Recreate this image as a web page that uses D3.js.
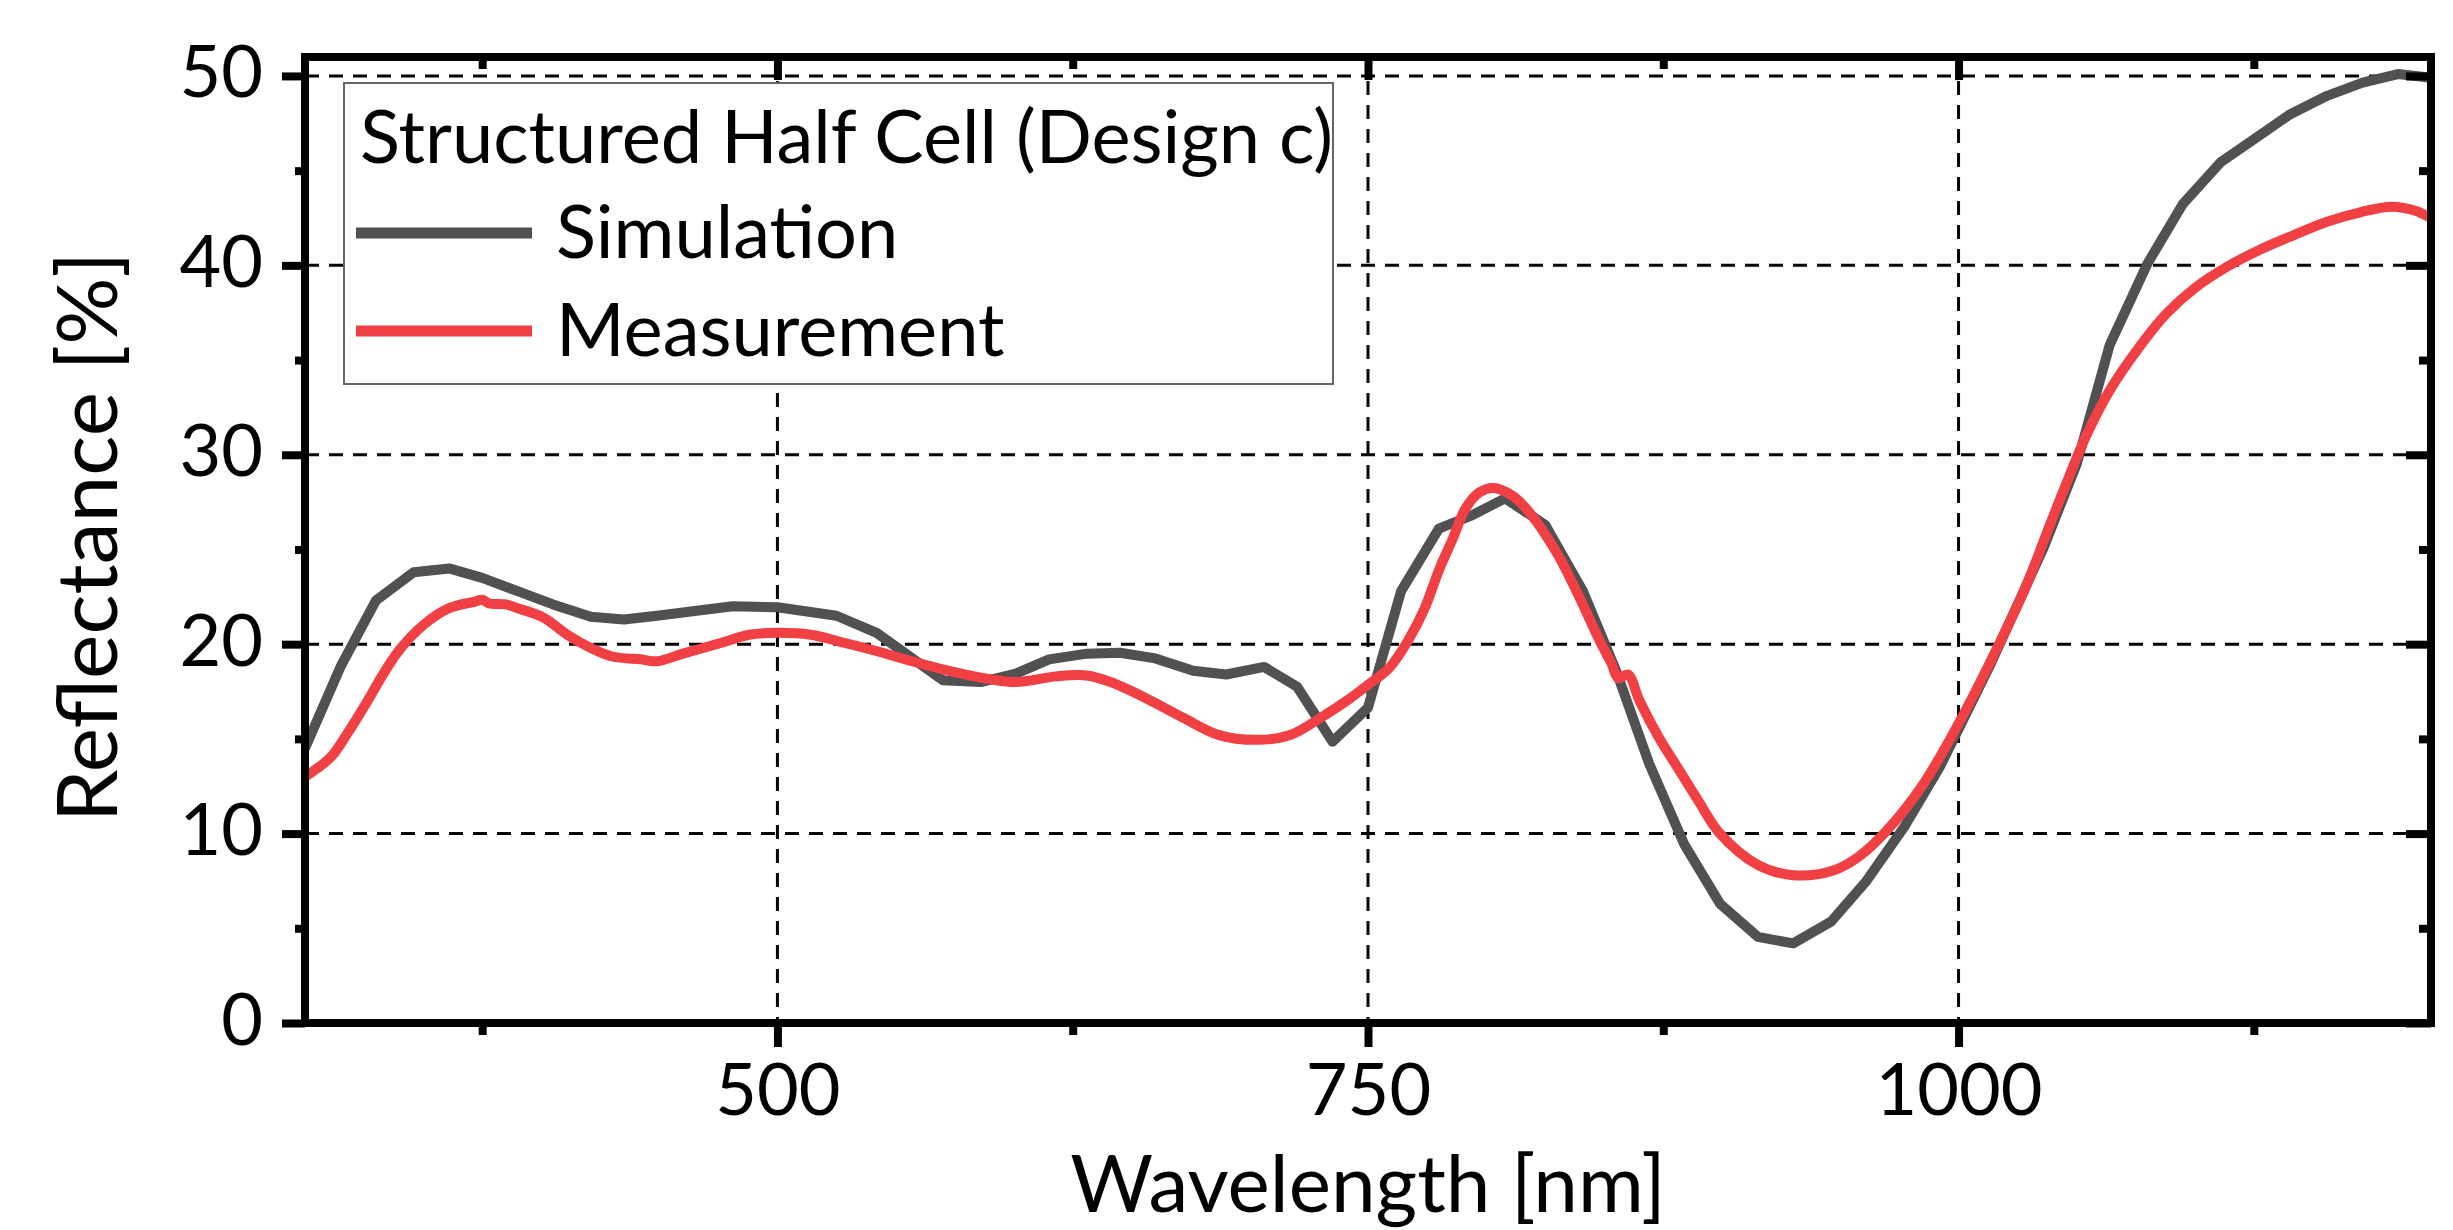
<!DOCTYPE html>
<html>
<head>
<meta charset="utf-8">
<script src="https://cdn.jsdelivr.net/npm/d3@7"></script>
<style>
  body { margin: 0; background: #fff; }
  text { font-family: Lato, "Open Sans", sans-serif; fill: #000; }
</style>
</head>
<body>
<div id="graf"></div>
<script>
// Data
const simWavelength = [300, 315, 330, 346, 361, 375, 390, 405, 421, 435, 449, 481, 500, 525, 542, 570, 586, 601, 615, 631, 645, 660, 676, 690, 706, 720, 735, 750, 764, 780, 794, 808, 825, 841, 855, 869, 884, 899, 915, 930, 946, 961, 977, 992, 1013, 1036, 1050, 1064, 1080, 1095, 1111, 1125, 1140, 1156, 1171, 1186, 1200]
const simReflectance = [14.5, 18.8, 22.3, 23.8, 24.0, 23.5, 22.8, 22.1, 21.45, 21.3, 21.5, 22.0, 21.95, 21.5, 20.6, 18.1, 18.0, 18.45, 19.2, 19.5, 19.55, 19.25, 18.6, 18.4, 18.8, 17.75, 14.85, 16.65, 22.8, 26.1, 26.8, 27.7, 26.3, 22.8, 18.6, 13.7, 9.4, 6.3, 4.55, 4.2, 5.35, 7.5, 10.35, 13.5, 18.8, 25.1, 29.5, 35.8, 40.1, 43.25, 45.45, 46.65, 47.95, 48.95, 49.65, 50.1, 49.9]

const measWavelength = [300, 311, 318, 326, 333, 340, 350, 361, 372, 375, 378, 385, 390, 401, 411, 421, 430, 442, 449, 460, 477, 488, 500, 514, 529, 543, 557, 574, 590, 601, 618, 631, 641, 656, 672, 687, 703, 717, 731, 742, 750, 759, 767, 774, 780, 786, 791, 797, 803, 811, 818, 830, 839, 848, 853, 856, 860, 865, 873, 882, 890, 899, 915, 930, 947, 958, 971, 985, 1000, 1013, 1028, 1039, 1046, 1054, 1064, 1076, 1088, 1100, 1114, 1128, 1142, 1156, 1170, 1183, 1193, 1200]
const measReflectance = [13.0, 14.05, 15.3, 16.9, 18.4, 19.7, 21.0, 21.9, 22.25, 22.35, 22.15, 22.1, 21.9, 21.4, 20.5, 19.8, 19.35, 19.2, 19.1, 19.5, 20.1, 20.5, 20.6, 20.5, 20.05, 19.6, 19.1, 18.55, 18.15, 18.0, 18.3, 18.35, 18.0, 17.15, 16.1, 15.2, 14.95, 15.2, 16.2, 17.1, 17.85, 18.75, 20.2, 21.9, 23.9, 25.6, 27.1, 28.0, 28.25, 27.85, 27.0, 24.8, 22.6, 20.2, 19.0, 18.2, 18.4, 17.0, 15.1, 13.3, 11.7, 10.0, 8.35, 7.8, 8.05, 8.8, 10.35, 12.6, 15.8, 18.95, 22.9, 26.4, 28.6, 31.0, 33.4, 35.6, 37.45, 38.8, 39.95, 40.85, 41.6, 42.3, 42.8, 43.1, 42.9, 42.5]

const xMajor = [500, 750, 1000]
const xMinor = [375, 625, 875, 1125]
const yMajor = [0, 10, 20, 30, 40, 50]
const yMinor = [5, 15, 25, 35, 45]

const series = [
  { nombre: "Simulation", wl: simWavelength, r: simReflectance, color: "#515151", curva: d3.curveLinear },
  { nombre: "Measurement", wl: measWavelength, r: measReflectance, color: "#f04044", curva: d3.curveCatmullRom.alpha(0.5) },
]

const graf = d3.select("#graf")

const anchoTotal = 2453
const altoTotal = 1230
const margins = { left: 305, top: 57, right: 22, bottom: 207 }
const ancho = anchoTotal - margins.left - margins.right
const alto = altoTotal - margins.top - margins.bottom

const svg = graf
  .append("svg")
  .attr("width", anchoTotal)
  .attr("height", altoTotal)

const g = svg
  .append("g")
  .attr("transform", `translate(${margins.left}, ${margins.top})`)

// Escaladores
const x = d3.scaleLinear().domain([300, 1200]).range([0, ancho])
const y = d3.scaleLinear().domain([0, 51]).range([alto, 0])

// Grid
const grid = g.append("g").attr("stroke", "#000").attr("stroke-width", 3).attr("stroke-dasharray", "14,10")
grid
  .selectAll("line.v")
  .data(xMajor)
  .join("line")
  .attr("class", "v")
  .attr("x1", (d) => x(d))
  .attr("x2", (d) => x(d))
  .attr("y1", 0)
  .attr("y2", alto)
grid
  .selectAll("line.h")
  .data(yMajor.filter((d) => d > 0))
  .join("line")
  .attr("class", "h")
  .attr("x1", 0)
  .attr("x2", ancho)
  .attr("y1", (d) => y(d))
  .attr("y2", (d) => y(d))

// Lineas
svg
  .append("clipPath")
  .attr("id", "clip")
  .append("rect")
  .attr("width", ancho)
  .attr("height", alto)

const gLineas = g.append("g").attr("clip-path", "url(#clip)")
series.forEach((s) => {
  const linea = d3
    .line()
    .x((d, i) => x(s.wl[i]))
    .y((d) => y(d))
    .curve(s.curva)
  gLineas
    .append("path")
    .datum(s.r)
    .attr("d", linea)
    .attr("fill", "none")
    .attr("stroke", s.color)
    .attr("stroke-width", 10)
    .attr("stroke-linejoin", "round")
})

// Ejes
const estiloEje = (sel) => {
  sel.select(".domain").remove()
  sel.selectAll(".tick line").attr("stroke", "#000").attr("stroke-width", 8)
  sel.selectAll(".tick text").style("font-size", "72px").attr("fill", "#000")
}

g.append("g")
  .attr("transform", `translate(0, ${alto})`)
  .call(d3.axisBottom(x).tickValues(xMajor).tickSize(24).tickFormat(d3.format("d")))
  .call(estiloEje)
  .call((sel) => sel.selectAll(".tick text").attr("y", 92).attr("dy", null))
g.append("g")
  .attr("transform", `translate(0, ${alto})`)
  .call(d3.axisBottom(x).tickValues(xMinor).tickSize(12).tickFormat(""))
  .call(estiloEje)
g.append("g")
  .call(d3.axisTop(x).tickValues(xMajor).tickSize(-23).tickFormat(""))
  .call(estiloEje)
g.append("g")
  .call(d3.axisTop(x).tickValues(xMinor).tickSize(-12).tickFormat(""))
  .call(estiloEje)

g.append("g")
  .call(d3.axisLeft(y).tickValues(yMajor).tickSize(23).tickPadding(19).tickFormat(d3.format("d")))
  .call(estiloEje)
  .call((sel) => sel.selectAll(".tick text").attr("dy", "21"))
g.append("g")
  .call(d3.axisLeft(y).tickValues(yMinor).tickSize(10).tickFormat(""))
  .call(estiloEje)
g.append("g")
  .attr("transform", `translate(${ancho}, 0)`)
  .call(d3.axisRight(y).tickValues(yMajor).tickSize(-25).tickFormat(""))
  .call(estiloEje)
g.append("g")
  .attr("transform", `translate(${ancho}, 0)`)
  .call(d3.axisRight(y).tickValues(yMinor).tickSize(-12).tickFormat(""))
  .call(estiloEje)

// Marco
g.append("rect")
  .attr("width", ancho)
  .attr("height", alto)
  .attr("fill", "none")
  .attr("stroke", "#000")
  .attr("stroke-width", 8)

// Leyenda
const leyenda = svg.append("g").attr("transform", "translate(344, 83)")
leyenda
  .append("rect")
  .attr("width", 989)
  .attr("height", 301)
  .attr("fill", "#fff")
  .attr("stroke", "#666")
  .attr("stroke-width", 2)
leyenda
  .append("text")
  .attr("x", 16)
  .attr("y", 80)
  .style("font-size", "74px")
  .text("Structured Half Cell (Design c)")
const filas = leyenda
  .selectAll("g.fila")
  .data(series)
  .join("g")
  .attr("class", "fila")
  .attr("transform", (d, i) => `translate(0, ${150 + i * 98})`)
filas
  .append("line")
  .attr("x1", 12)
  .attr("x2", 188)
  .attr("stroke", (d) => d.color)
  .attr("stroke-width", 11)
filas
  .append("text")
  .attr("x", 212)
  .attr("y", 25)
  .style("font-size", "74px")
  .text((d) => d.nombre)

// Titulos
svg
  .append("text")
  .attr("x", margins.left + ancho / 2)
  .attr("y", 1212)
  .attr("text-anchor", "middle")
  .style("font-size", "80px")
  .text("Wavelength [nm]")
svg
  .append("text")
  .attr("transform", "translate(117, 537) rotate(-90)")
  .attr("text-anchor", "middle")
  .style("font-size", "84px")
  .text("Reflectance [%]")
</script>
</body>
</html>
